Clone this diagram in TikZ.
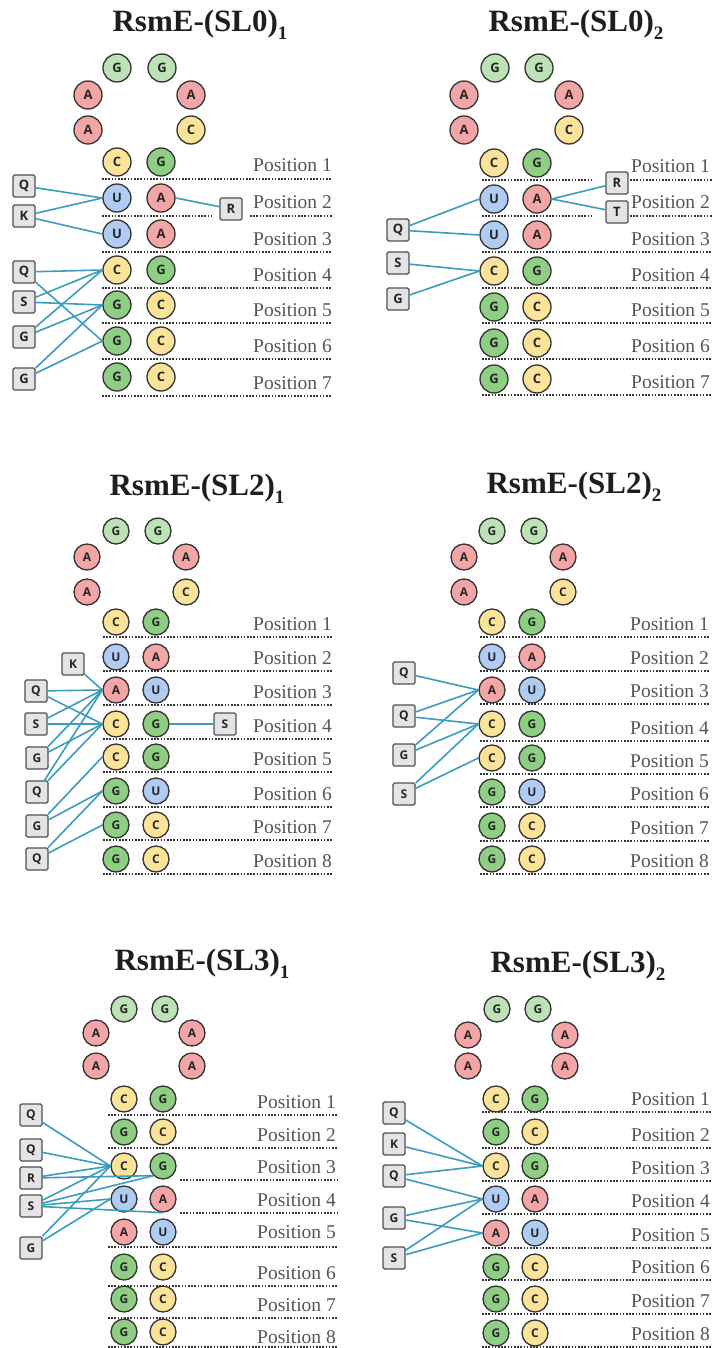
\documentclass[tikz,border=0pt]{standalone}
\usepackage{fontspec}
\setmainfont{Liberation Serif}
\newfontfamily\nucf{Open Sans}
\definecolor{colA}{HTML}{F4A6A6}
\definecolor{colC}{HTML}{FBE49A}
\definecolor{colG}{HTML}{8ECF84}
\definecolor{colL}{HTML}{BCE2B5}
\definecolor{colU}{HTML}{B1CCF3}
\definecolor{rim}{HTML}{333333}
\definecolor{link}{HTML}{3A9DBD}
\definecolor{boxf}{HTML}{E4E4E6}
\definecolor{boxd}{HTML}{505050}
\definecolor{dotc}{HTML}{333333}
\definecolor{posc}{HTML}{555555}
\definecolor{ttlc}{HTML}{1E1E1E}
\newcommand\subnum[1]{\raisebox{-8pt}{\fontsize{19}{19}\selectfont #1}}
\def\nucsz{28pt}
\def\nucfs{13}
\tikzset{
  nuc/.style={circle, draw=rim, line width=1.3pt, fill=col#1, minimum size=\nucsz,
    inner sep=0pt, font=\nucf\bfseries\fontsize{\nucfs}{\nucfs}\selectfont, text=black!85},
  bx/.style={draw=boxd, fill=boxf, line width=1.2pt, rounded corners=1.5pt,
    minimum size=22pt, inner sep=0pt, font=\nucf\bfseries\fontsize{\nucfs}{\nucfs}\selectfont, text=black!85},
  con/.style={draw=link, line width=1.6pt},
  dots/.style={draw=dotc, line width=2.2pt, dash pattern=on 1.6pt off 1.6pt},
  postxt/.style={anchor=base east, inner sep=0pt, text=posc, font=\fontsize{19.5}{22}\selectfont},
  ttl/.style={anchor=base, inner sep=0pt, text=ttlc, font=\bfseries\fontsize{31}{36}\selectfont}
}
\begin{document}
\begin{tikzpicture}[x=1pt,y=-1pt]
\useasboundingbox (0,0) rectangle (714,1348);
\fill[white] (0,0) rectangle (714,1348);

% ================= Panel 1: SL0_1 =================
\node[ttl] (t1) at (200,32) {RsmE-(SL0)\subnum{1}};
\node[nuc=L] (p1g1) at (117,68) {G};
\node[nuc=L] (p1g2) at (162,68) {G};
\node[nuc=A] (p1a1) at (88,95) {A};
\node[nuc=A] (p1a2) at (191,95) {A};
\node[nuc=A] (p1a3) at (88,130) {A};
\node[nuc=C] (p1a4) at (191,130) {C};
\foreach \i/\a/\b/\y in {1/C/G/162,2/U/A/198,3/U/A/234,4/C/G/270,5/G/C/305,6/G/C/341,7/G/C/377}{
  \node[nuc=\a] (p1L\i) at (117,\y) {\a};
  \node[nuc=\b] (p1R\i) at (161,\y) {\b};
}
\foreach \y in {179,252,288,323,359,396}{\draw[dots] (102,\y) -- (332,\y);}
\draw[dots] (102,216) -- (213,216);
\draw[dots] (250,216) -- (332,216);
\foreach \i/\y in {1/179,2/216,3/252,4/288,5/323,6/359,7/396}{
  \node[postxt] (p1p\i) at (332,\y-7) {Position \i};
}
\node[bx] (p1b1) at (24,186) {Q};
\node[bx] (p1b2) at (24,216) {K};
\node[bx] (p1b3) at (24,272) {Q};
\node[bx] (p1b4) at (24,302) {S};
\node[bx] (p1b5) at (24,337) {G};
\node[bx] (p1b6) at (24,379) {G};
\node[bx] (p1bR) at (231,209) {R};
\draw[con] (p1b1) -- (p1L2.west);
\draw[con] (p1b2) -- (p1L2.west);
\draw[con] (p1b2) -- (p1L3.west);
\draw[con] (p1R2.east) -- (p1bR);
\draw[con] (p1b3) -- (p1L4.west);
\draw[con] (p1b3) -- (p1L6.west);
\draw[con] (p1b4) -- (p1L4.west);
\draw[con] (p1b4) -- (p1L5.west);
\draw[con] (p1b5) -- (p1L4.west);
\draw[con] (p1b5) -- (p1L5.west);
\draw[con] (p1b6) -- (p1L5.west);
\draw[con] (p1b6) -- (p1L6.west);

% ================= Panel 2: SL0_2 =================
\node[ttl] (t2) at (576,32) {RsmE-(SL0)\subnum{2}};
\node[nuc=L] (p2g1) at (495,68) {G};
\node[nuc=L] (p2g2) at (539,68) {G};
\node[nuc=A] (p2a1) at (464,95) {A};
\node[nuc=A] (p2a2) at (569,95) {A};
\node[nuc=A] (p2a3) at (464,130) {A};
\node[nuc=C] (p2a4) at (569,130) {C};
\foreach \i/\a/\b/\y in {1/C/G/163,2/U/A/199,3/U/A/235,4/C/G/271,5/G/C/307,6/G/C/343,7/G/C/379}{
  \node[nuc=\a] (p2L\i) at (494,\y) {\a};
  \node[nuc=\b] (p2R\i) at (537,\y) {\b};
}
\foreach \y in {252,288,323,359,395}{\draw[dots] (482,\y) -- (712,\y);}
\foreach \y in {180,216}{\draw[dots] (482,\y) -- (592,\y); \draw[dots] (630,\y) -- (712,\y);}
\foreach \i/\y in {1/180,2/216,3/252,4/288,5/323,6/359,7/395}{
  \node[postxt] (p2p\i) at (710,\y-7) {Position \i};
}
\node[bx] (p2b1) at (398,230) {Q};
\node[bx] (p2b2) at (398,263) {S};
\node[bx] (p2b3) at (398,299) {G};
\node[bx] (p2bR) at (617,183) {R};
\node[bx] (p2bT) at (617,212) {T};
\draw[con] (p2b1) -- (p2L2.west);
\draw[con] (p2b1) -- (p2L3.west);
\draw[con] (p2b2) -- (p2L4.west);
\draw[con] (p2b3) -- (p2L4.west);
\draw[con] (p2R2.east) -- (p2bR);
\draw[con] (p2R2.east) -- (p2bT);

\def\nucsz{26pt}
\def\nucfs{12}
% ================= Panel 3: SL2_1 =================
\node[ttl] (t3) at (197,495) {RsmE-(SL2)\subnum{1}};
\node[nuc=L] (p3g1) at (116,531) {G};
\node[nuc=L] (p3g2) at (158,531) {G};
\node[nuc=A] (p3a1) at (87,557) {A};
\node[nuc=A] (p3a2) at (186,557) {A};
\node[nuc=A] (p3a3) at (87,592) {A};
\node[nuc=C] (p3a4) at (186,592) {C};
\foreach \i/\a/\b/\y in {1/C/G/622,2/U/A/657,3/A/U/690,4/C/G/724,5/C/G/757,6/G/U/791,7/G/C/825,8/G/C/859}{
  \node[nuc=\a] (p3L\i) at (116,\y) {\a};
  \node[nuc=\b] (p3R\i) at (156,\y) {\b};
}
\foreach \i/\y in {1/637,2/671,3/705,4/739,5/772,6/807,7/840,8/874}{
  \draw[dots] (103,\y) -- (333,\y);
  \node[postxt] (p3p\i) at (332,\y-7) {Position \i};
}
\node[bx] (p3b1) at (73,664) {K};
\node[bx] (p3b2) at (36,691) {Q};
\node[bx] (p3b3) at (36,724) {S};
\node[bx] (p3b4) at (37,758) {G};
\node[bx] (p3b5) at (37,792) {Q};
\node[bx] (p3b6) at (37,826) {G};
\node[bx] (p3b7) at (37,859) {Q};
\node[bx] (p3bS) at (225,724) {S};
\draw[con] (p3b1) -- (p3L3.west);
\draw[con] (p3b2) -- (p3L3.west);
\draw[con] (p3b2) -- (p3L4.west);
\draw[con] (p3b3) -- (p3L3.west);
\draw[con] (p3b3) -- (p3L4.west);
\draw[con] (p3b4) -- (p3L3.west);
\draw[con] (p3b4) -- (p3L4.west);
\draw[con] (p3b5) -- (p3L3.west);
\draw[con] (p3b5) -- (p3L4.west);
\draw[con] (p3b6) -- (p3L5.west);
\draw[con] (p3b6) -- (p3L6.west);
\draw[con] (p3b7) -- (p3L6.west);
\draw[con] (p3b7) -- (p3L7.west);
\draw[con] (p3R4.east) -- (p3bS);

% ================= Panel 4: SL2_2 =================
\node[ttl] (t4) at (574,493) {RsmE-(SL2)\subnum{2}};
\node[nuc=L] (p4g1) at (492,531) {G};
\node[nuc=L] (p4g2) at (534,531) {G};
\node[nuc=A] (p4a1) at (464,557) {A};
\node[nuc=A] (p4a2) at (563,557) {A};
\node[nuc=A] (p4a3) at (464,592) {A};
\node[nuc=C] (p4a4) at (563,592) {C};
\foreach \i/\a/\b/\y in {1/C/G/622,2/U/A/657,3/A/U/690,4/C/G/724,5/C/G/758,6/G/U/792,7/G/C/826,8/G/C/859}{
  \node[nuc=\a] (p4L\i) at (492,\y) {\a};
  \node[nuc=\b] (p4R\i) at (532,\y) {\b};
}
\foreach \i/\y in {1/637,2/671,3/704,4/741,5/774,6/807,7/841,8/874}{
  \draw[dots] (480,\y) -- (709,\y);
  \node[postxt] (p4p\i) at (709,\y-7) {Position \i};
}
\node[bx] (p4b1) at (404,673) {Q};
\node[bx] (p4b2) at (404,716) {Q};
\node[bx] (p4b3) at (404,755) {G};
\node[bx] (p4b4) at (404,794) {S};
\draw[con] (p4b1) -- (p4L3.west);
\draw[con] (p4b2) -- (p4L3.west);
\draw[con] (p4b2) -- (p4L4.west);
\draw[con] (p4b3) -- (p4L3.west);
\draw[con] (p4b3) -- (p4L4.west);
\draw[con] (p4b4) -- (p4L4.west);
\draw[con] (p4b4) -- (p4L5.west);

% ================= Panel 5: SL3_1 =================
\node[ttl] (t5) at (202,970) {RsmE-(SL3)\subnum{1}};
\node[nuc=L] (p5g1) at (124,1009) {G};
\node[nuc=L] (p5g2) at (165,1009) {G};
\node[nuc=A] (p5a1) at (96,1033) {A};
\node[nuc=A] (p5a2) at (192,1033) {A};
\node[nuc=A] (p5a3) at (96,1066) {A};
\node[nuc=A] (p5a4) at (192,1066) {A};
\foreach \i/\a/\b/\y in {1/C/G/1099,2/G/C/1132,3/C/G/1166,4/U/A/1199,5/A/U/1232,6/G/C/1267,7/G/C/1299,8/G/C/1332}{
  \node[nuc=\a] (p5L\i) at (124,\y) {\a};
  \node[nuc=\b] (p5R\i) at (163,\y) {\b};
}
\foreach \y in {1115,1148,1247,1286,1318,1347}{\draw[dots] (108,\y) -- (337,\y);}
\foreach \y in {1180,1213}{\draw[dots] (180,\y) -- (337,\y);}
\foreach \i/\y in {1/1115,2/1148,3/1180,4/1213,5/1245,6/1286,7/1318,8/1350}{
  \node[postxt] (p5p\i) at (336,\y-7) {Position \i};
}
\node[bx] (p5b1) at (31,1115) {Q};
\node[bx] (p5b2) at (31,1150) {Q};
\node[bx] (p5b3) at (31,1178) {R};
\node[bx] (p5b4) at (31,1206) {S};
\node[bx] (p5b5) at (31,1248) {G};
\draw[con] (p5b1) -- (p5L3.west);
\draw[con] (p5b2) -- (p5L3.west);
\draw[con] (p5b3) -- (p5L3.west);
\draw[con] (p5b3) -- (p5R3.south west);
\draw[con] (p5b4) -- (p5L3.west);
\draw[con] (p5b4) -- (p5R3.south west);
\draw[con] (p5b4) -- (p5L4.west);
\draw[con] (p5b4) -- (p5R4.south);
\draw[con] (p5b5) -- (p5L3.west);
\draw[con] (p5b5) -- (p5L4.west);

% ================= Panel 6: SL3_2 =================
\node[ttl] (t6) at (578,972) {RsmE-(SL3)\subnum{2}};
\node[nuc=L] (p6g1) at (497,1009) {G};
\node[nuc=L] (p6g2) at (538,1009) {G};
\node[nuc=A] (p6a1) at (468,1035) {A};
\node[nuc=A] (p6a2) at (565,1035) {A};
\node[nuc=A] (p6a3) at (468,1066) {A};
\node[nuc=A] (p6a4) at (565,1066) {A};
\foreach \i/\a/\b/\y in {1/C/G/1099,2/G/C/1132,3/C/G/1166,4/U/A/1199,5/A/U/1233,6/G/C/1267,7/G/C/1299,8/G/C/1333}{
  \node[nuc=\a] (p6L\i) at (496,\y) {\a};
  \node[nuc=\b] (p6R\i) at (535,\y) {\b};
}
\foreach \i/\y in {1/1112,2/1148,3/1181,4/1214,5/1248,6/1280,7/1314,8/1347}{
  \draw[dots] (482,\y) -- (712,\y);
  \node[postxt] (p6p\i) at (710,\y-7) {Position \i};
}
\node[bx] (p6b1) at (394,1113) {Q};
\node[bx] (p6b2) at (394,1144) {K};
\node[bx] (p6b3) at (394,1176) {Q};
\node[bx] (p6b4) at (394,1218) {G};
\node[bx] (p6b5) at (394,1258) {S};
\draw[con] (p6b1) -- (p6L3.west);
\draw[con] (p6b2) -- (p6L3.west);
\draw[con] (p6b3) -- (p6L3.west);
\draw[con] (p6b3) -- (p6L4.west);
\draw[con] (p6b4) -- (p6L4.west);
\draw[con] (p6b4) -- (p6L5.west);
\draw[con] (p6b5) -- (p6L4.west);
\draw[con] (p6b5) -- (p6L5.west);
\end{tikzpicture}
\end{document}
